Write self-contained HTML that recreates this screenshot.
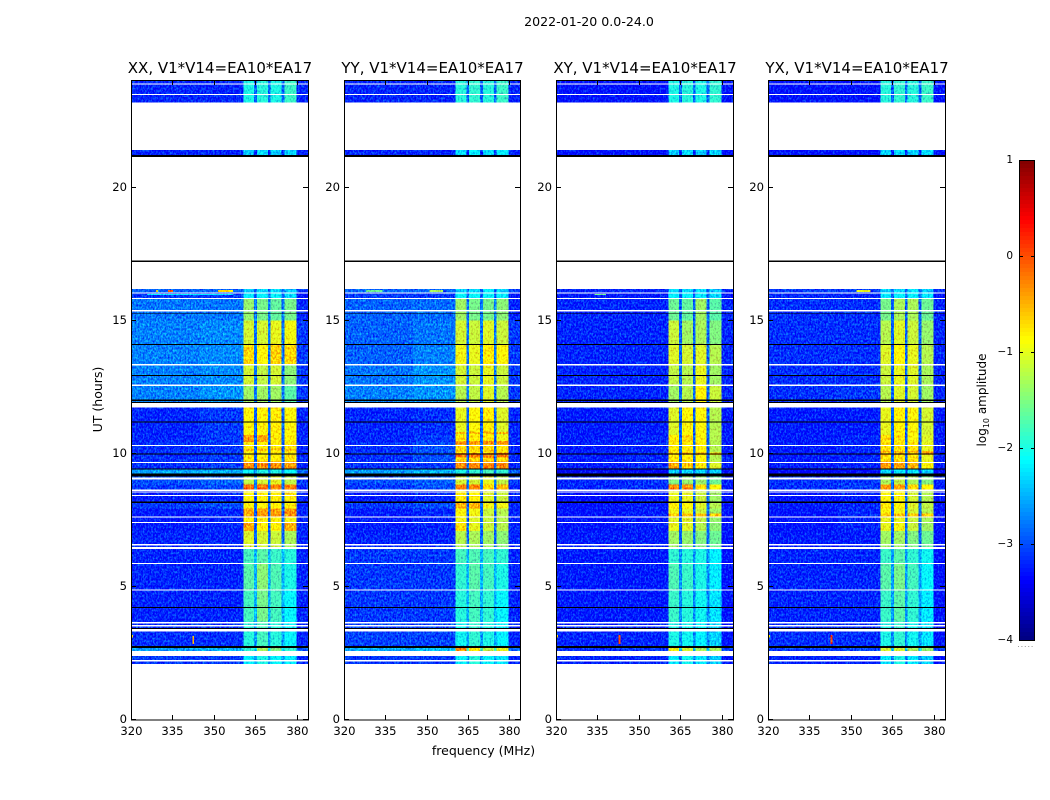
<!DOCTYPE html>
<html lang="en">
<head>
<meta charset="utf-8">
<title>Dynamic spectra 2022-01-20</title>
<style>
html,body{margin:0;padding:0;background:#fff;width:1050px;height:800px;overflow:hidden}
svg{display:block}
text{font-family:"DejaVu Sans","Liberation Sans",sans-serif;fill:#000}
</style>
</head>
<body>
<svg id="figure" xmlns="http://www.w3.org/2000/svg" width="1050" height="800" viewBox="0 0 1050 800">
  <defs>
    <filter id="speckle" filterUnits="userSpaceOnUse" x="120" y="70" width="840" height="660" color-interpolation-filters="sRGB">
      <feTurbulence type="fractalNoise" baseFrequency="0.6 0.42" numOctaves="2" seed="7" result="n"/>
      <feColorMatrix in="n" type="matrix" values="0 0.2 0 0 0.4  0 1 0 0 0  0 0.15 0 0 0.425  0 0 0 0 1" result="m"/>
      <feComposite in="SourceGraphic" in2="m" operator="arithmetic" k1="0" k2="1" k3="1.1" k4="-0.55" result="mix"/>
      <feComposite in="mix" in2="SourceAlpha" operator="in"/>
    </filter>
  </defs>
  <rect x="0" y="0" width="1050" height="800" fill="#fff"/>
  <g id="heat" filter="url(#speckle)" shape-rendering="crispEdges"></g>
  <g id="over" shape-rendering="crispEdges"></g>
  <g id="axes"></g>
  <text x="589" y="26" font-size="12.6" text-anchor="middle">2022-01-20 0.0-24.0</text>
  <text x="483.5" y="755" font-size="12.5" text-anchor="middle">frequency (MHz)</text>
  <text x="0" y="0" font-size="12.5" text-anchor="middle" transform="translate(102,399.5) rotate(-90)">UT (hours)</text>
  <text x="0" y="0" font-size="12" text-anchor="middle" transform="translate(986,400) rotate(-90)">log<tspan font-size="8" dy="3">10</tspan><tspan dy="-3"> amplitude</tspan></text>
</svg>
<script>
// ---- chart data ----
const panelTitles = ["XX, V1*V14=EA10*EA17", "YY, V1*V14=EA10*EA17", "XY, V1*V14=EA10*EA17", "YX, V1*V14=EA10*EA17"];
const panelKeys = ["xx", "yy", "xy", "yx"];
const xTicks = [320, 335, 350, 365, 380];
const yTicks = [0, 5, 10, 15, 20];
const colorbarTicks = [1, 0, -1, -2, -3, -4];

// frequency band edges in MHz: bgL, bgM, ch1, gap, ch2, gap, ch3, gap, ch4, bgR
const bandEdges = [320, 345, 360.6, 364.5, 365.5, 369.5, 370.5, 374.5, 375.5, 379.8, 384];

// time rows (hours, top and bottom)
const rowHours = [
  [24.00, 23.20], [21.40, 21.22], [16.18, 16.05], [16.05, 15.85], [15.85, 15.00], [15.00, 14.10], [14.10, 13.35],
  [13.35, 12.60], [12.60, 11.74], [11.74, 10.70], [10.70, 10.45], [10.45, 9.70], [9.70, 9.42], [9.42, 9.20],
  [9.20, 8.85], [8.85, 8.66], [8.66, 8.20], [8.20, 7.95], [7.95, 7.62], [7.62, 7.42], [7.42, 7.10],
  [7.10, 6.50], [6.50, 5.90], [5.90, 4.90], [4.90, 3.70], [3.70, 2.78], [2.78, 2.59], [2.40, 2.05]
];

// log10 amplitude per row: bgL, bgM, ch1, gap, ch2, ch3, ch4, bgR
const xxRows = [
  [-3.2,-3.2,-2.0,-2.9,-1.95,-2.0,-1.85,-3.2],[-3.2,-3.2,-2.4,-3.2,-2.3,-2.4,-2.3,-3.2],[-2.9,-2.9,-2.4,-2.9,-2.3,-2.3,-2.4,-3.1],
  [-3.1,-3.1,-2.2,-2.9,-2.2,-2.1,-2.3,-3.3],[-2.8,-2.8,-1.4,-2.8,-1.55,-1.65,-1.55,-3.2],[-2.75,-2.7,-1.1,-2.8,-1.1,-1.0,-0.95,-3.1],
  [-2.75,-2.7,-0.7,-2.8,-0.9,-0.65,-0.7,-3.1],[-2.75,-2.7,-1.1,-2.8,-1.2,-1.1,-1.45,-3.1],[-2.75,-2.65,-1.35,-2.8,-1.35,-1.35,-1.7,-3.1],
  [-3.2,-3.1,-0.9,-2.9,-0.85,-0.8,-0.9,-3.2],[-3.2,-3.1,-0.4,-2.9,-0.45,-0.8,-0.85,-3.2],[-3.15,-3.1,-0.8,-2.9,-0.8,-0.8,-0.75,-3.2],
  [-3.15,-3.1,-0.3,-2.9,-0.3,-0.35,-0.4,-3.2],[-2.6,-2.5,-2.1,-2.7,-2.0,-2.0,-2.1,-2.9],[-3.0,-2.9,-1.2,-2.7,-1.1,-1.0,-1.2,-3.1],
  [-3.1,-3.0,-0.15,-2.8,-0.15,-0.25,-0.25,-3.2],[-3.25,-3.2,-0.85,-2.9,-0.85,-0.85,-0.8,-3.2],[-3.1,-3.0,-0.9,-2.9,-0.9,-0.85,-0.85,-3.2],
  [-3.25,-3.2,-0.45,-2.9,-0.4,-0.4,-0.35,-3.2],[-3.25,-3.2,-0.85,-2.9,-0.9,-0.9,-0.95,-3.2],[-3.25,-3.2,-0.45,-2.9,-0.85,-0.85,-0.5,-3.2],
  [-3.2,-3.2,-1.05,-2.9,-1.1,-1.15,-1.3,-3.2],[-3.2,-3.2,-1.8,-2.5,-1.7,-1.85,-1.95,-3.2],[-3.2,-3.2,-1.7,-2.5,-1.45,-1.75,-2.0,-3.2],
  [-3.2,-3.2,-1.8,-2.5,-1.55,-1.8,-2.1,-3.2],[-3.15,-3.15,-1.95,-2.6,-1.8,-1.95,-2.1,-3.2],[-2.6,-2.5,-1.9,-2.3,-1.3,-1.5,-1.9,-3.0],
  [-3.1,-3.1,-2.15,-2.6,-2.0,-2.1,-2.2,-3.2]
];
const yyRows = [
  [-3.2,-3.2,-1.95,-2.9,-1.9,-1.95,-1.85,-3.2],[-3.2,-3.2,-2.3,-3.2,-2.2,-2.3,-2.2,-3.2],[-2.9,-2.9,-2.3,-2.9,-2.3,-2.2,-2.3,-3.1],
  [-3.1,-3.1,-2.1,-2.9,-2.1,-2.1,-2.2,-3.3],[-2.9,-2.85,-1.35,-2.8,-1.55,-1.55,-1.45,-3.2],[-2.9,-2.8,-1.1,-2.8,-1.15,-1.05,-1.15,-3.1],
  [-2.9,-2.75,-0.95,-2.8,-1.0,-0.8,-0.9,-3.1],[-2.8,-2.65,-1.1,-2.8,-1.15,-1.0,-1.15,-3.1],[-2.75,-2.65,-1.25,-2.8,-1.2,-1.05,-1.25,-3.1],
  [-3.2,-3.15,-1.0,-2.9,-0.9,-0.8,-1.05,-3.2],[-3.2,-3.1,-0.75,-2.9,-0.8,-0.75,-0.95,-3.2],[-3.15,-3.0,-0.7,-2.9,-0.7,-0.7,-0.75,-3.2],
  [-3.15,-3.1,-0.3,-2.9,-0.25,-0.2,-0.3,-3.2],[-2.6,-2.5,-2.0,-2.7,-1.9,-1.8,-1.9,-2.9],[-3.0,-2.9,-1.1,-2.7,-1.1,-1.0,-1.2,-3.1],
  [-3.1,-3.0,-0.25,-2.8,-0.25,-0.7,-0.5,-3.2],[-3.25,-3.2,-0.8,-2.9,-0.85,-1.05,-1.15,-3.2],[-3.1,-3.0,-0.5,-2.9,-0.5,-0.95,-0.95,-3.2],
  [-3.25,-3.2,-0.9,-2.9,-0.95,-1.15,-1.25,-3.2],[-3.25,-3.2,-0.95,-2.9,-1.05,-1.15,-1.25,-3.2],[-3.25,-3.2,-0.75,-2.9,-1.0,-1.15,-1.25,-3.2],
  [-3.2,-3.2,-1.25,-2.9,-1.3,-1.35,-1.45,-3.2],[-3.1,-3.1,-1.8,-2.5,-1.75,-1.8,-1.9,-3.2],[-3.1,-3.1,-1.9,-2.5,-1.7,-1.8,-2.0,-3.2],
  [-3.1,-3.1,-1.95,-2.5,-1.8,-1.9,-2.1,-3.2],[-3.05,-3.05,-2.05,-2.6,-1.9,-2.0,-2.15,-3.2],[-2.55,-2.45,-0.3,-1.8,-0.8,-1.2,-1.0,-2.9],
  [-3.1,-3.1,-2.1,-2.6,-1.95,-2.1,-2.25,-3.2]
];
const xyRows = [
  [-3.3,-3.3,-2.0,-2.9,-1.95,-2.0,-1.9,-3.3],[-3.3,-3.3,-2.4,-3.2,-2.3,-2.4,-2.3,-3.3],[-3.2,-3.2,-2.3,-2.9,-2.3,-2.3,-2.4,-3.2],
  [-3.25,-3.25,-2.2,-2.9,-2.2,-2.2,-2.3,-3.3],[-3.2,-3.2,-1.6,-2.9,-1.65,-1.35,-1.7,-3.2],[-3.2,-3.2,-1.15,-2.9,-1.35,-1.3,-1.5,-3.2],
  [-3.2,-3.2,-1.05,-2.9,-1.1,-1.05,-1.25,-3.2],[-3.2,-3.2,-1.2,-2.9,-1.25,-1.0,-1.35,-3.2],[-3.2,-3.2,-1.35,-2.9,-1.25,-0.85,-1.15,-3.2],
  [-3.25,-3.25,-1.05,-2.9,-0.9,-0.9,-1.25,-3.25],[-3.25,-3.2,-0.8,-2.9,-0.7,-0.9,-1.25,-3.25],[-3.25,-3.2,-0.8,-2.9,-0.8,-0.85,-1.25,-3.25],
  [-3.25,-3.2,-0.45,-2.9,-0.6,-0.8,-1.05,-3.25],[-3.45,-3.4,-2.4,-2.9,-2.3,-2.3,-2.4,-3.4],[-3.2,-3.15,-1.5,-2.9,-1.4,-1.4,-1.6,-3.25],
  [-3.2,-3.15,-0.3,-2.8,-0.3,-0.7,-0.9,-3.25],[-3.35,-3.3,-1.0,-2.9,-1.0,-1.15,-1.35,-3.3],[-3.3,-3.25,-0.85,-2.9,-0.9,-1.05,-1.25,-3.3],
  [-3.3,-3.25,-0.95,-2.9,-1.0,-1.15,-1.35,-3.3],[-3.3,-3.25,-1.05,-2.9,-1.05,-1.2,-1.4,-3.3],[-3.3,-3.25,-1.0,-2.9,-1.05,-1.25,-1.45,-3.3],
  [-3.25,-3.25,-1.35,-2.9,-1.4,-1.5,-1.6,-3.3],[-3.25,-3.25,-1.9,-2.7,-1.95,-2.0,-2.15,-3.3],[-3.25,-3.25,-1.75,-2.7,-1.85,-2.0,-2.2,-3.3],
  [-3.25,-3.25,-1.85,-2.7,-1.95,-2.05,-2.25,-3.3],[-3.2,-3.2,-2.0,-2.7,-2.05,-2.15,-2.35,-3.3],[-3.15,-3.1,-0.95,-2.4,-1.1,-1.3,-1.3,-3.1],
  [-3.2,-3.2,-2.2,-2.8,-2.05,-2.2,-2.4,-3.3]
];
const yxRows = [
  [-3.3,-3.3,-1.95,-2.9,-1.9,-1.95,-1.85,-3.3],[-3.3,-3.3,-2.35,-3.2,-2.3,-2.35,-2.3,-3.3],[-3.1,-3.1,-2.3,-2.9,-2.3,-2.25,-2.35,-3.2],
  [-3.2,-3.2,-2.2,-2.9,-2.15,-2.15,-2.25,-3.3],[-3.15,-3.15,-1.55,-2.9,-1.3,-1.3,-1.6,-3.2],[-3.15,-3.15,-1.25,-2.9,-1.05,-1.15,-1.4,-3.2],
  [-3.15,-3.15,-1.05,-2.9,-0.9,-1.0,-1.25,-3.2],[-3.15,-3.15,-1.15,-2.9,-1.0,-1.05,-1.3,-3.2],[-3.15,-3.1,-1.25,-2.9,-1.05,-1.1,-1.35,-3.2],
  [-3.25,-3.25,-1.0,-2.9,-0.85,-0.9,-1.1,-3.25],[-3.25,-3.2,-0.7,-2.9,-0.75,-0.9,-1.05,-3.25],[-3.25,-3.2,-0.75,-2.9,-0.75,-0.75,-1.0,-3.25],
  [-3.25,-3.2,-0.35,-2.9,-0.4,-0.5,-0.9,-3.25],[-3.4,-3.35,-2.3,-2.9,-2.2,-2.25,-2.35,-3.4],[-3.15,-3.1,-1.3,-2.9,-1.2,-1.3,-1.5,-3.25],
  [-3.15,-3.1,-0.35,-2.8,-0.4,-0.7,-0.85,-3.25],[-3.3,-3.25,-0.9,-2.9,-0.9,-1.1,-1.25,-3.3],[-3.25,-3.2,-0.8,-2.9,-0.9,-1.05,-1.2,-3.3],
  [-3.3,-3.2,-0.9,-2.9,-0.95,-1.1,-1.25,-3.3],[-3.3,-3.2,-1.0,-2.9,-1.0,-1.15,-1.3,-3.3],[-3.3,-3.2,-1.0,-2.9,-0.95,-1.15,-1.35,-3.3],
  [-3.25,-3.25,-1.35,-2.9,-1.35,-1.5,-1.6,-3.3],[-3.2,-3.2,-1.85,-2.6,-1.7,-1.9,-2.05,-3.3],[-3.2,-3.2,-1.7,-2.6,-1.55,-1.8,-2.1,-3.3],
  [-3.2,-3.2,-1.85,-2.6,-1.7,-1.9,-2.2,-3.3],[-3.15,-3.15,-2.0,-2.7,-1.9,-2.05,-2.25,-3.3],[-3.1,-3.05,-1.1,-2.4,-1.1,-1.3,-1.4,-3.1],
  [-3.2,-3.2,-2.2,-2.8,-2.0,-2.2,-2.4,-3.3]
];
const panelRows = { xx: xxRows, yy: yyRows, xy: xyRows, yx: yxRows };

// bright strips across all four channels: panel, hour top, hour bottom, log10 amplitude
const channelStrips = [
  ["yy",10.48,10.35,-0.35],["yy",10.02,9.86,-0.22],["yy",9.68,9.52,-0.3],["yy",10.82,10.74,-0.55],
  ["xx",10.2,10.12,-0.55],["xy",10.05,9.95,-0.55],["yx",10.1,9.95,-0.5],["xy",7.75,7.65,-0.6],["yx",7.75,7.65,-0.6]
];

// narrow interference: panel, hour top, hour bottom, freq from, freq to, log10 amplitude
const interference = [
  ["xx",16.15,16.08,351.4,356.8,-0.75],["xx",16.15,16.08,333.4,335.2,0.0],["xx",16.15,16.08,329.0,329.7,-1.0],
  ["xx",16.0,15.96,325.8,356.8,-2.2],["xx",3.15,2.85,342.2,342.8,-0.5],["xx",3.2,3.1,320,320.7,-0.8],
  ["yy",16.15,16.08,328,334,-1.6],["yy",16.15,16.08,351,356,-1.3],
  ["xy",3.2,2.85,342.6,343.3,0.0],["xy",3.2,3.1,320,320.7,-0.8],["xy",16.0,15.96,334,338,-1.6],
  ["yx",3.2,2.85,342.6,343.3,0.0],["yx",3.2,3.1,320,320.7,-0.8],["yx",16.15,16.08,352,357,-1.0]
];

// fully flagged (blank) time spans, hours
const whiteRows = [
  [23.91,23.87],[23.51,23.47],[23.20,21.40],[21.15,17.25],[17.20,16.18],[16.05,16.02],[15.85,15.81],[15.40,15.35],
  [13.37,13.32],[12.61,12.55],[11.90,11.74],[10.33,10.29],[9.69,9.65],[9.10,9.03],[8.66,8.61],[8.58,8.54],[8.45,8.41],
  [7.65,7.60],[7.44,7.40],[6.61,6.56],[6.49,6.43],[5.90,5.86],[4.91,4.86],[3.68,3.63],[3.56,3.52],[3.41,3.32],
  [2.59,2.40],[2.25,2.20],[2.10,2.05],[2.05,0]
];
// zero-amplitude (black) time spans, hours
const blackRows = [
  [21.22,21.15],[17.25,17.20],[15.29,15.26],[14.12,14.08],[12.96,12.92],[12.03,11.99],[11.94,11.90],[11.21,11.17],
  [10.01,9.97],[9.44,9.41],[9.25,9.15],[8.20,8.15],[4.24,4.21],[3.45,3.42],[2.77,2.71]
];

// ---- scales and drawing ----
const NS = "http://www.w3.org/2000/svg";
const heatLayer = document.getElementById("heat");
const overLayer = document.getElementById("over");
const axesLayer = document.getElementById("axes");
const AX_TOP = 81, AX_BOTTOM = 720;
const F_MIN = 320, F_MAX = 384, H_MIN = 0, H_MAX = 24;
const panelLeft = i => Math.round(131.2 + i * 212.3);
const panelRight = i => Math.round(131.2 + i * 212.3 + 176.8);
const xScale = (i, f) => panelLeft(i) + (f - F_MIN) / (F_MAX - F_MIN) * (panelRight(i) - panelLeft(i));
const yScale = h => AX_BOTTOM - (h - H_MIN) / (H_MAX - H_MIN) * (AX_BOTTOM - AX_TOP);
const cbY = v => 640 - (v + 4) / 5 * 480;

function jet(v) {
  const t = Math.max(0, Math.min(1, (v + 4) / 5));
  const ramp = s => Math.max(0, Math.min(1, 1.5 - Math.abs(4 * s - 2)));
  const c = s => Math.round(255 * ramp(s));
  return "rgb(" + c(t - 0.25) + "," + c(t) + "," + c(t + 0.25) + ")";
}
function make(tag, parent, attrs) {
  const el = document.createElementNS(NS, tag);
  for (const k in attrs) el.setAttribute(k, attrs[k]);
  parent.appendChild(el);
  return el;
}

panelKeys.forEach((key, i) => {
  const rows = panelRows[key];
  const left = panelLeft(i);
  const right = panelRight(i);
  const width = right - left;

  rowHours.forEach((span, r) => {
    const v = rows[r];
    const bandValues = [v[0], v[1], v[2], v[3], v[4], v[3], v[5], v[3], v[6], v[7]];
    bandValues.forEach((val, b) => {
      const x0 = xScale(i, bandEdges[b]);
      const x1 = xScale(i, bandEdges[b + 1]);
      const y0 = yScale(span[0]);
      const y1 = yScale(span[1]);
      const cell = make("rect", heatLayer, { x: x0, y: y0, width: x1 - x0, height: y1 - y0, fill: jet(val) });
      
      
    });
  });

  channelStrips.filter(m => m[0] === key).forEach(m => {
    [2, 4, 6, 8].forEach(b => {
      const x0 = xScale(i, bandEdges[b]);
      const x1 = xScale(i, bandEdges[b + 1]);
      const y0 = yScale(m[1]);
      const y1 = yScale(m[2]);
      const strip = make("rect", heatLayer, { x: x0, y: y0, width: x1 - x0, height: y1 - y0, fill: jet(m[3]) });
      
      
    });
  });

  interference.filter(m => m[0] === key).forEach(m => {
    const x0 = xScale(i, m[3]);
    const x1 = xScale(i, m[4]);
    const y0 = yScale(m[1]);
    const y1 = yScale(m[2]);
    const mark = make("rect", heatLayer, { x: x0, y: y0, width: x1 - x0, height: y1 - y0, fill: jet(m[5]) });
    
    
  });

  whiteRows.forEach(s => {
    const y0 = yScale(s[0]);
    const y1 = yScale(s[1]);
    const gap = make("rect", overLayer, { x: left, y: y0, width: width, height: y1 - y0, fill: "#fff" });
    
    
  });
  blackRows.forEach(s => {
    const y0 = yScale(s[0]);
    const y1 = yScale(s[1]);
    const line = make("rect", overLayer, { x: left, y: y0, width: width, height: y1 - y0, fill: "#000" });
    
    
  });

  const title = make("text", axesLayer, { x: (left + right) / 2 + 0.5, y: 73, "font-size": 15, "text-anchor": "middle" });
  title.textContent = panelTitles[i];
  
  

  const frame = make("rect", axesLayer, { x: left + 0.5, y: AX_TOP - 0.5, width: width, height: AX_BOTTOM - AX_TOP + 0.5, fill: "none", stroke: "#000", "stroke-width": 1 });
  
  

  xTicks.forEach(t => {
    const x = Math.round(xScale(i, t)) + 0.5;
    const bottomTick = make("line", axesLayer, { x1: x, x2: x, y1: AX_BOTTOM, y2: AX_BOTTOM - 5, stroke: "#000" });
    
    
    const topTick = make("line", axesLayer, { x1: x, x2: x, y1: AX_TOP, y2: AX_TOP + 4, stroke: "#000" });
    
    
    const label = make("text", axesLayer, { x: x, y: 735, "font-size": 11.6, "text-anchor": "middle" });
    label.textContent = t;
    
    
  });
  yTicks.forEach(t => {
    const y = Math.round(yScale(t)) - 0.5;
    const leftTick = make("line", axesLayer, { x1: left, x2: left + 5, y1: y, y2: y, stroke: "#000" });
    
    
    const rightTick = make("line", axesLayer, { x1: right - 5, x2: right, y1: y, y2: y, stroke: "#000" });
    
    
    const label = make("text", axesLayer, { x: left - 4, y: y + 3.5, "font-size": 11.6, "text-anchor": "end" });
    label.textContent = t;
    
    
  });
});

// colorbar
const cbLeft = 1019, cbWidth = 16;
for (let p = 0; p < 120; p++) {
  const vTop = 1 - p / 24;
  const y0 = cbY(vTop);
  const strip = make("rect", axesLayer, { x: cbLeft, y: y0, width: cbWidth, height: 4.4, fill: jet(vTop - 1 / 48), "shape-rendering": "crispEdges" });
  
  
}
const cbFrame = make("rect", axesLayer, { x: cbLeft + 0.5, y: 160.5, width: cbWidth - 1, height: 480, fill: "none", stroke: "#000" });


colorbarTicks.forEach(t => {
  const y = Math.round(cbY(t)) + 0.5;
  const tickL = make("line", axesLayer, { x1: cbLeft, x2: cbLeft + 4, y1: y, y2: y, stroke: "#000" });
  
  
  const tickR = make("line", axesLayer, { x1: cbLeft + cbWidth - 4, x2: cbLeft + cbWidth, y1: y, y2: y, stroke: "#000" });
  
  
  const label = make("text", axesLayer, { x: 1013, y: y + 2.5, "font-size": 10.5, "text-anchor": "end" });
  label.textContent = t < 0 ? "\u2212" + Math.abs(t) : String(t);
  
  
});
const minorDots = make("line", axesLayer, { x1: 1018, x2: 1035, y1: 646.5, y2: 646.5, stroke: "#999", "stroke-dasharray": "1 2.4" });


</script>
</body>
</html>
